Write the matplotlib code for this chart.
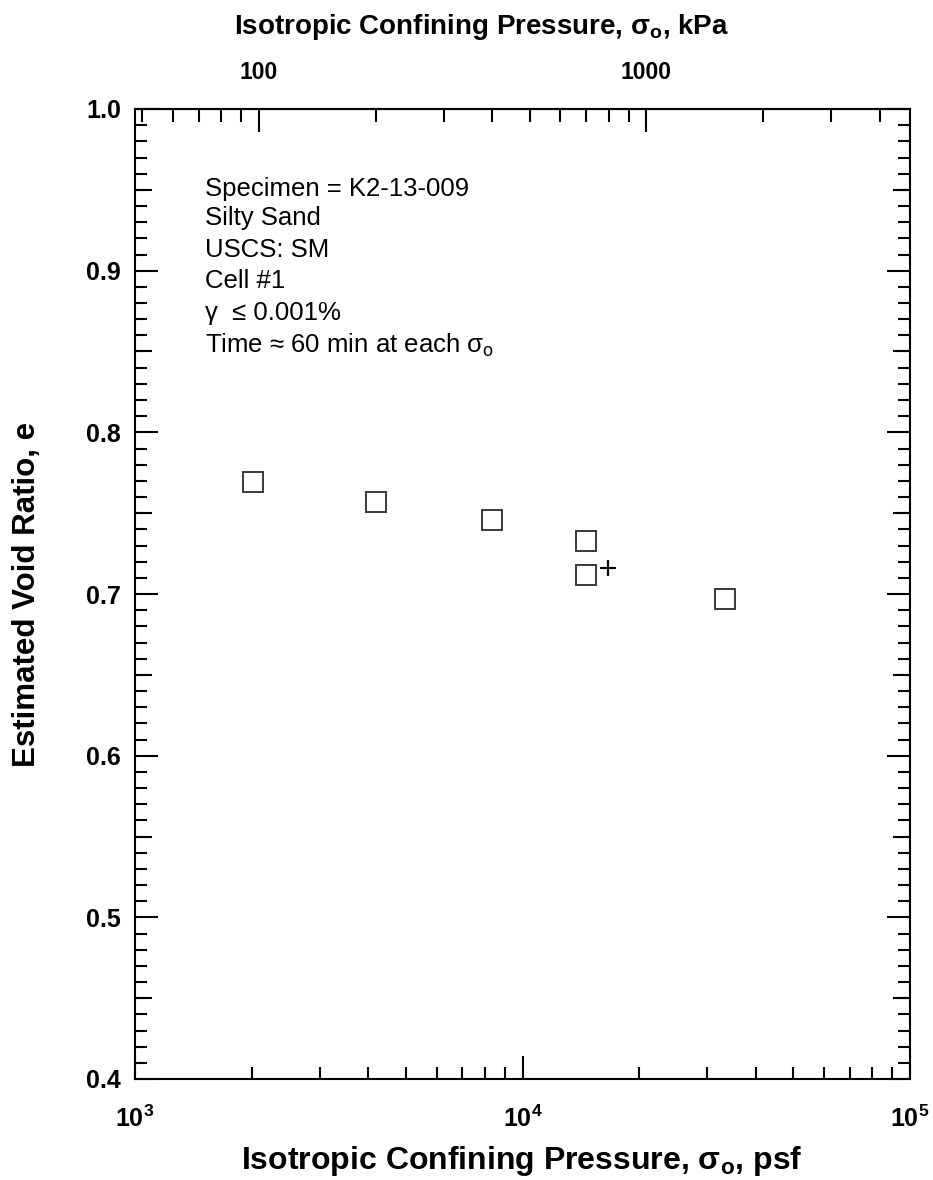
import numpy as np
import matplotlib
matplotlib.use("Agg")
import matplotlib.pyplot as plt
from matplotlib.ticker import LogLocator, MultipleLocator, FixedLocator, FuncFormatter, NullFormatter

plt.rcParams['font.family'] = ['Liberation Sans', 'DejaVu Sans']
plt.rcParams['mathtext.fontset'] = 'custom'
plt.rcParams['mathtext.rm'] = 'Liberation Sans'
plt.rcParams['mathtext.bf'] = 'Liberation Sans:bold'
plt.rcParams['mathtext.it'] = 'Liberation Sans:italic'
plt.rcParams['mathtext.sf'] = 'Liberation Sans'

# data
pressure_psf = [2016, 4190, 8340, 14580, 14580, 33300]
void_ratio = [0.769, 0.757, 0.746, 0.733, 0.712, 0.697]
end_psf = [16600]
end_void_ratio = [0.716]

kpa_major = [100, 1000]
kpa_minor = [50, 60, 70, 80, 90, 200, 300, 400, 500, 600, 700, 800, 900,
             2000, 3000, 4000]

info_lines = [
    "Specimen = K2-13-009",
    "Silty Sand",
    "USCS: SM",
    "Cell #1",
    "\u03b3  \u2264 0.001%",
    "Time \u2248 60 min at each \u03c3$_\\mathrm{o}$",
]

PSF_PER_KPA = 20.885

fig = plt.figure(figsize=(9.33, 11.8), dpi=100)
ax = fig.add_axes([135/933, 101/1180, 775/933, 970/1180])

ax.plot(pressure_psf, void_ratio, ls='none', marker='s', ms=15,
        mfc='white', mec='#3a3a3a', mew=1.4)
ax.plot(end_psf, end_void_ratio, ls='none', marker='+', ms=11,
        mec='black', mew=1.6)

ax.set_xscale('log')
ax.set_xlim(1e3, 1e5)
ax.set_ylim(0.4, 1.0)

ax.xaxis.set_major_locator(LogLocator(base=10))
ax.xaxis.set_minor_locator(LogLocator(base=10, subs=np.arange(2, 10)))
ax.xaxis.set_minor_formatter(NullFormatter())
ax.xaxis.set_major_formatter(FuncFormatter(
    lambda v, p: "$\\mathbf{10^{%d}}$" % round(np.log10(v))))
ax.yaxis.set_major_locator(MultipleLocator(0.1))
ax.yaxis.set_minor_locator(MultipleLocator(0.01))
ax.yaxis.set_major_formatter(FuncFormatter(lambda v, p: "%.1f" % v))

for s in ax.spines.values():
    s.set_linewidth(1.5)

ax.tick_params(which='both', direction='in', width=1.5, top=False,
               right=True, labelsize=18)
ax.tick_params(which='major', length=16.5)
ax.tick_params(which='minor', length=8.5)
ax.tick_params(axis='x', which='major', pad=19)
ax.tick_params(axis='y', which='major', pad=10)
for lab in ax.get_xticklabels() + ax.get_yticklabels():
    lab.set_fontweight('bold')

# mid ticks at 0.05 on both sides
for side in ('left', 'right'):
    sec = ax.secondary_yaxis(side)
    sec.yaxis.set_major_locator(FixedLocator(np.arange(0.45, 1.0, 0.1)))
    sec.yaxis.set_minor_locator(FixedLocator([]))
    sec.yaxis.set_major_formatter(NullFormatter())
    sec.tick_params(which='major', direction='in', length=12.5, width=1.5,
                    labelleft=False, labelright=False)
    sec.spines[side].set_visible(False)

# top axis in kPa
top = ax.secondary_xaxis('top', functions=(lambda x: x / PSF_PER_KPA,
                                           lambda x: x * PSF_PER_KPA))
top.xaxis.set_major_locator(FixedLocator(kpa_major))
top.xaxis.set_minor_locator(FixedLocator(kpa_minor))
top.xaxis.set_major_formatter(FuncFormatter(lambda v, p: "%d" % round(v)))
top.xaxis.set_minor_formatter(NullFormatter())
top.tick_params(which='both', direction='in', width=1.5, labelsize=16.5, pad=18)
top.tick_params(which='major', length=16.5)
top.tick_params(which='minor', length=9)
top.spines['top'].set_linewidth(1.5)
for lab in top.get_xticklabels():
    lab.set_fontweight('bold')

fig.text(482/933, 1 - 27/1180,
         "Isotropic Confining Pressure, \u03c3$_\\mathbf{o}$, kPa",
         fontsize=20, fontweight='bold', ha='center', va='center')
fig.text(522/933, 1 - 1161/1180,
         "Isotropic Confining Pressure, \u03c3$_\\mathbf{o}$, psf",
         fontsize=23, fontweight='bold', ha='center', va='center')
fig.text(27/933, 1 - 594/1180, "Estimated Void Ratio, e", fontsize=22.5,
         fontweight='bold', rotation=90, ha='center', va='center')

baselines = [196, 225, 257, 288, 320, 353]
for txt, b in zip(info_lines, baselines):
    ax.text((205 - 135) / 775, (1079 - b) / 970, txt, transform=ax.transAxes,
            fontsize=18.5, va='baseline', ha='left')

fig.savefig("out.png", dpi=100)
